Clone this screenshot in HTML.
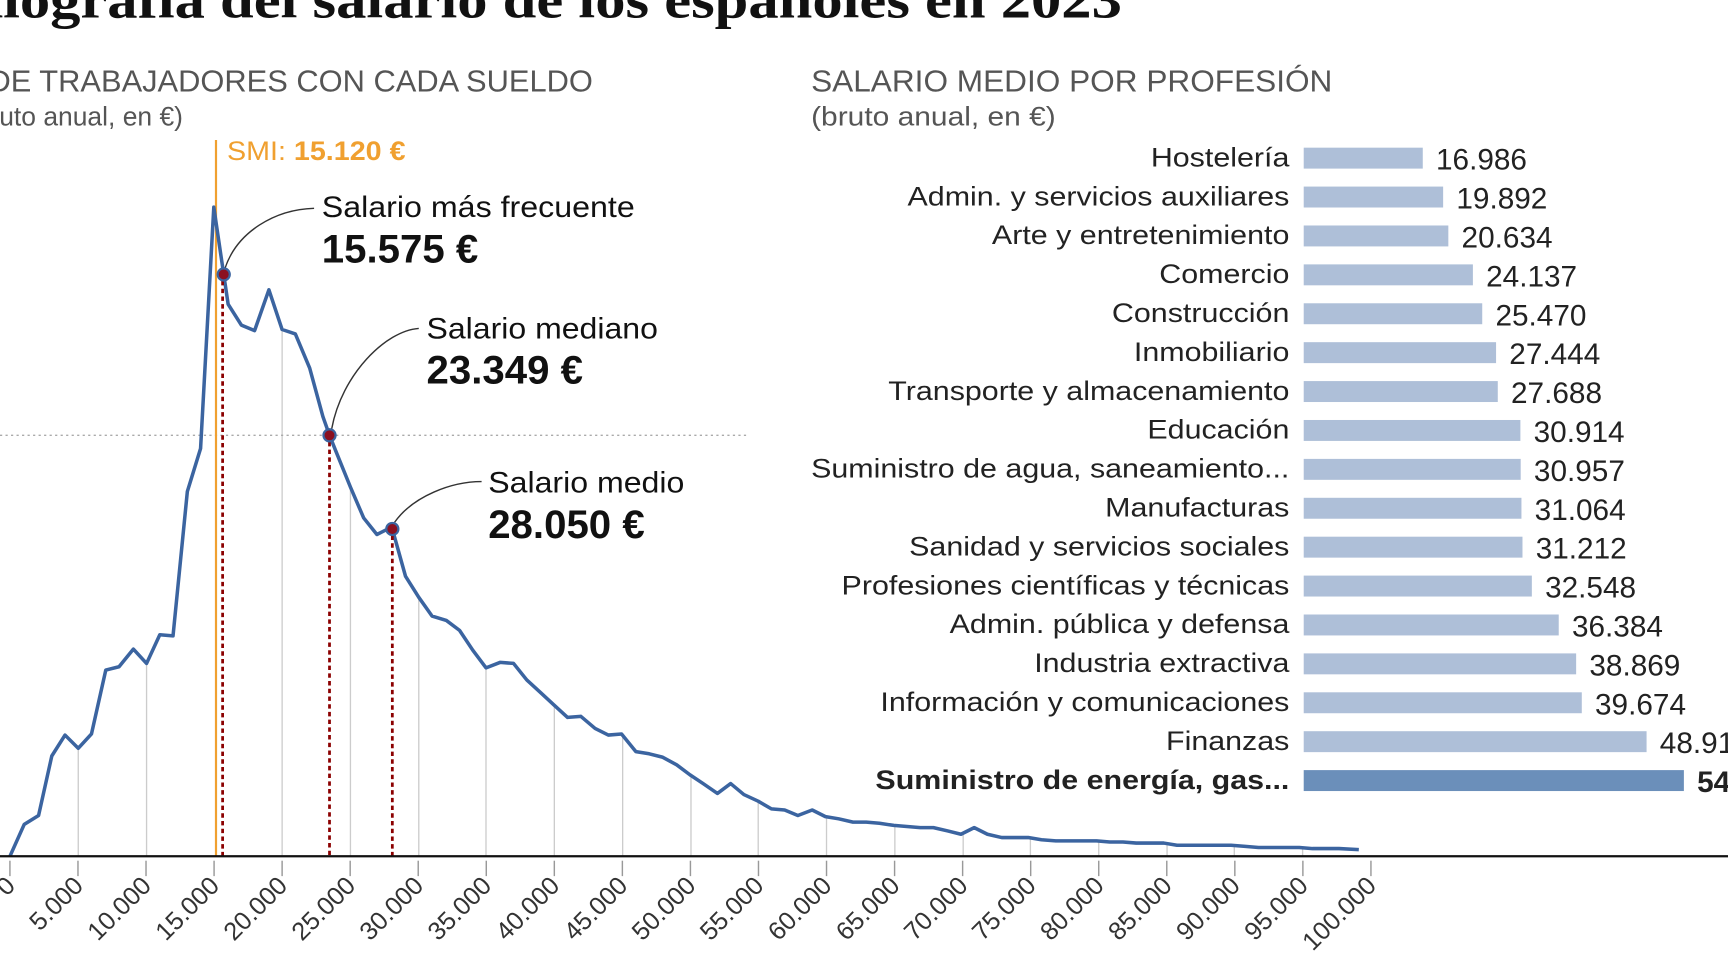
<!DOCTYPE html>
<html><head><meta charset="utf-8"><style>
html,body{margin:0;padding:0;background:#fff;overflow:hidden}
svg{display:block}
text{font-family:"Liberation Sans",sans-serif}
</style></head><body>
<svg width="1728" height="972" viewBox="0 0 1568 882" xmlns="http://www.w3.org/2000/svg">
<text x="-95" y="16" textLength="1113" lengthAdjust="spacingAndGlyphs" font-weight="bold" font-size="48" fill="#111" style="font-family:'Liberation Serif',serif">Radiografía del salario de los españoles en 2023</text>
<text x="538" y="83" text-anchor="end" font-size="28" fill="#555">NÚMERO DE TRABAJADORES CON CADA SUELDO</text>
<text x="166" y="114" text-anchor="end" font-size="24" fill="#555">(bruto anual, en €)</text>
<text x="736" y="83" font-size="28" fill="#555" textLength="473" lengthAdjust="spacingAndGlyphs">SALARIO MEDIO POR PROFESIÓN</text>
<text x="736" y="114" font-size="24" fill="#555" textLength="222" lengthAdjust="spacingAndGlyphs">(bruto anual, en €)</text>

<g stroke="#ccc" stroke-width="1.2">
<line x1="71" y1="777" x2="71" y2="679"/><line x1="133" y1="777" x2="133" y2="602"/><line x1="256" y1="777" x2="256" y2="299"/><line x1="318" y1="777" x2="318" y2="442"/><line x1="380" y1="777" x2="380" y2="542"/><line x1="441" y1="777" x2="441" y2="606"/><line x1="503" y1="777" x2="503" y2="640"/><line x1="565" y1="777" x2="565" y2="666"/><line x1="627" y1="777" x2="627" y2="703"/><line x1="688" y1="777" x2="688" y2="727"/><line x1="750" y1="777" x2="750" y2="741"/><line x1="812" y1="777" x2="812" y2="749"/><line x1="874" y1="777" x2="874" y2="757"/><line x1="935" y1="777" x2="935" y2="760"/><line x1="997" y1="777" x2="997" y2="763"/><line x1="1059" y1="777" x2="1059" y2="765"/><line x1="1120" y1="777" x2="1120" y2="767"/><line x1="1182" y1="777" x2="1182" y2="769"/>
</g>
<line x1="0" y1="395" x2="678" y2="395" stroke="#aaa" stroke-width="1.2" stroke-dasharray="2,3"/>
<line x1="196" y1="127" x2="196" y2="777" stroke="#f0a030" stroke-width="2"/>
<text x="206" y="145" font-size="24" fill="#f0a030" textLength="162" lengthAdjust="spacingAndGlyphs">SMI: <tspan font-weight="bold">15.120 €</tspan></text>

<polyline fill="none" stroke="#3b64a0" stroke-width="3.2" stroke-linejoin="round" points="9,777 22,748 35,740 47,686 59,667 71,679 83,666 96,608 108,605 121,589 133,602 145,576 157,577 170,446 182,407 194,188 203,249 207,276 219,295 231,300 244,263 256,299 268,303 281,334 293,378 299,395 305,410 318,442 330,470 342,485 350,481 356,480 368,523 380,542 392,559 405,563 417,572 429,590 441,606 454,601 466,602 478,617 490,628 503,640 515,651 527,650 540,661 552,667 564,666 577,682 589,684 601,687 614,694 626,703 638,711 651,720 663,711 675,721 688,727 700,734 712,735 724,740 737,735 749,741 761,743 774,746 786,746 798,747 811,749 823,750 835,751 847,751 860,754 872,757 884,751 896,757 909,760 921,760 933,760 945,762 958,763 970,763 982,763 995,763 1007,764 1019,764 1031,765 1044,765 1056,765 1068,767 1081,767 1093,767 1105,767 1117,767 1130,768 1142,769 1154,769 1166,769 1179,769 1191,770 1203,770 1215,770 1233,771"/>

<g stroke="#8b0000" stroke-width="2.5" stroke-dasharray="4,3">
<line x1="202" y1="255" x2="202" y2="777"/><line x1="299" y1="401" x2="299" y2="777"/><line x1="356" y1="486" x2="356" y2="777"/>
</g>
<g fill="none" stroke="#333" stroke-width="1.3">
<path d="M204,244 C215,210 250,190 285,189"/>
<path d="M301,389 C310,340 350,300 380,298"/>
<path d="M358,474 C375,450 410,437 437,437"/>
</g>
<g fill="#8b1020" stroke="#3b64a0" stroke-width="2">
<circle cx="203" cy="249" r="5.5"/><circle cx="299" cy="395" r="5.5"/><circle cx="356" cy="480" r="5.5"/>
</g>
<g fill="#111">
<text x="292" y="197" font-size="27" textLength="284" lengthAdjust="spacingAndGlyphs">Salario más frecuente</text>
<text x="292" y="238" font-size="36" font-weight="bold" textLength="142" lengthAdjust="spacingAndGlyphs">15.575 €</text>
<text x="387" y="307" font-size="27" textLength="210" lengthAdjust="spacingAndGlyphs">Salario mediano</text>
<text x="387" y="348" font-size="36" font-weight="bold" textLength="142" lengthAdjust="spacingAndGlyphs">23.349 €</text>
<text x="443" y="447" font-size="27" textLength="178" lengthAdjust="spacingAndGlyphs">Salario medio</text>
<text x="443" y="488" font-size="36" font-weight="bold" textLength="142" lengthAdjust="spacingAndGlyphs">28.050 €</text>
</g>

<line x1="0" y1="777" x2="1568" y2="777" stroke="#111" stroke-width="2"/>
<g stroke="#999" stroke-width="1.3" id="ticks"></g>
<g font-size="23" fill="#333" id="tl"></g>

<g id="bars"></g>
<script>
var ns="http://www.w3.org/2000/svg";
var t=document.getElementById('ticks'),tl=document.getElementById('tl');
for(var i=0;i<=20;i++){var x=9+i*61.75;
var l=document.createElementNS(ns,'line');l.setAttribute('x1',x);l.setAttribute('x2',x);l.setAttribute('y1',781);l.setAttribute('y2',795);t.appendChild(l);
var s=document.createElementNS(ns,'text');var v=(i*5000).toLocaleString('de-DE');if(i==0)v='0';
s.textContent=v;s.setAttribute('text-anchor','end');s.setAttribute('transform','translate('+(x+6)+',805) rotate(-45)');tl.appendChild(s);}
var d=[["Hostelería",16986],["Admin. y servicios auxiliares",19892],["Arte y entretenimiento",20634],["Comercio",24137],["Construcción",25470],["Inmobiliario",27444],["Transporte y almacenamiento",27688],["Educación",30914],["Suministro de agua, saneamiento...",30957],["Manufacturas",31064],["Sanidad y servicios sociales",31212],["Profesiones científicas y técnicas",32548],["Admin. pública y defensa",36384],["Industria extractiva",38869],["Información y comunicaciones",39674],["Finanzas",48917],["Suministro de energía, gas...",54240]];
var b=document.getElementById('bars');
d.forEach(function(r,i){var y=143+i*35.3,last=i==16,w=r[1]*0.00636;
var rc=document.createElementNS(ns,'rect');rc.setAttribute('x',1183);rc.setAttribute('y',y-9);rc.setAttribute('width',w);rc.setAttribute('height',19);rc.setAttribute('fill',last?'#6b8fba':'#aebfd8');b.appendChild(rc);
var a=document.createElementNS(ns,'text');a.textContent=r[0];a.setAttribute('x',1170);a.setAttribute('y',y+8);a.setAttribute('text-anchor','end');a.setAttribute('font-size','24');a.setAttribute('fill','#222');if(last)a.setAttribute('font-weight','bold');
b.appendChild(a);var bw=a.getComputedTextLength();a.setAttribute('textLength',bw*1.15);a.setAttribute('lengthAdjust','spacingAndGlyphs');
var c=document.createElementNS(ns,'text');c.textContent=r[1].toLocaleString('de-DE');c.setAttribute('x',1183+w+12);c.setAttribute('y',y+11);c.setAttribute('font-size','27');c.setAttribute('fill','#222');if(last)c.setAttribute('font-weight','bold');b.appendChild(c);});
</script>
</svg>
</body></html>
